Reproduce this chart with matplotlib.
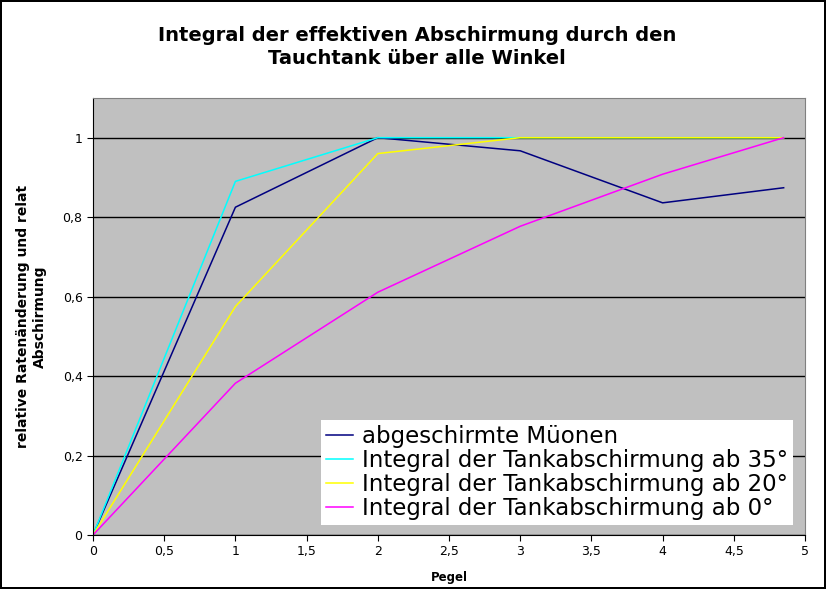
import matplotlib
matplotlib.use("Agg")
import matplotlib.pyplot as plt
from matplotlib.ticker import FuncFormatter, MultipleLocator

# data
pegel = [0, 1, 2, 3, 4, 4.85]
muonen = [0, 0.825, 1.0, 0.967, 0.836, 0.874]
tank35 = [0, 0.89, 1.0, 1.0, 1.0, 1.0]
tank20 = [0, 0.575, 0.96, 1.0, 1.0, 1.0]
tank0 = [0, 0.382, 0.611, 0.777, 0.908, 1.0]

labels = ["abgeschirmte Müonen",
          "Integral der Tankabschirmung ab 35°",
          "Integral der Tankabschirmung ab 20°",
          "Integral der Tankabschirmung ab 0°"]
colors = ["#000080", "#00FFFF", "#FFFF00", "#FF00FF"]

plt.rcParams["font.family"] = ["DejaVu Sans"]

fig = plt.figure(figsize=(8.26, 5.89), dpi=100)
fig.patch.set_edgecolor("black")
fig.patch.set_linewidth(1.5)
ax = fig.add_axes([0.1126, 0.0917, 0.862, 0.742])
ax.set_facecolor("#C0C0C0")

for ys, c, lab in zip([muonen, tank35, tank20, tank0], colors, labels):
    ax.plot(pegel, ys, color=c, lw=1.1, label=lab)

ax.set_xlim(0, 5)
ax.set_ylim(0, 1.1)
ax.xaxis.set_major_locator(MultipleLocator(0.5))
ax.set_yticks([0, 0.2, 0.4, 0.6, 0.8, 1.0])
fmt = FuncFormatter(lambda v, p: ("%g" % v).replace(".", ","))
ax.xaxis.set_major_formatter(fmt)
ax.yaxis.set_major_formatter(fmt)
ax.grid(axis="y", color="black", lw=1)
ax.set_axisbelow(True)
ax.tick_params(labelsize=9, direction="out", length=4)
for s in ["top", "right"]:
    ax.spines[s].set_color("#808080")

ax.set_xlabel("Pegel", fontsize=8.5, fontweight="bold", labelpad=9)
ax.set_ylabel("relative Ratenänderung und relat\nAbschirmung", fontsize=10,
              fontweight="bold", labelpad=11, linespacing=1.3)

fig.text(0.505, 0.92, "Integral der effektiven Abschirmung durch den\nTauchtank über alle Winkel",
         ha="center", va="center", fontsize=14, fontweight="bold", linespacing=1.3)

leg = ax.legend(loc="lower left", bbox_to_anchor=(0.3886, 0.1087),
                bbox_transform=fig.transFigure, borderaxespad=0, fontsize=16.5,
                frameon=True, fancybox=False, framealpha=1, edgecolor="white",
                handlelength=1.2, handletextpad=0.4, labelspacing=0.05,
                borderpad=0.2)
leg.get_frame().set_linewidth(0)

fig.savefig("out.png", dpi=100, edgecolor=fig.get_edgecolor())
